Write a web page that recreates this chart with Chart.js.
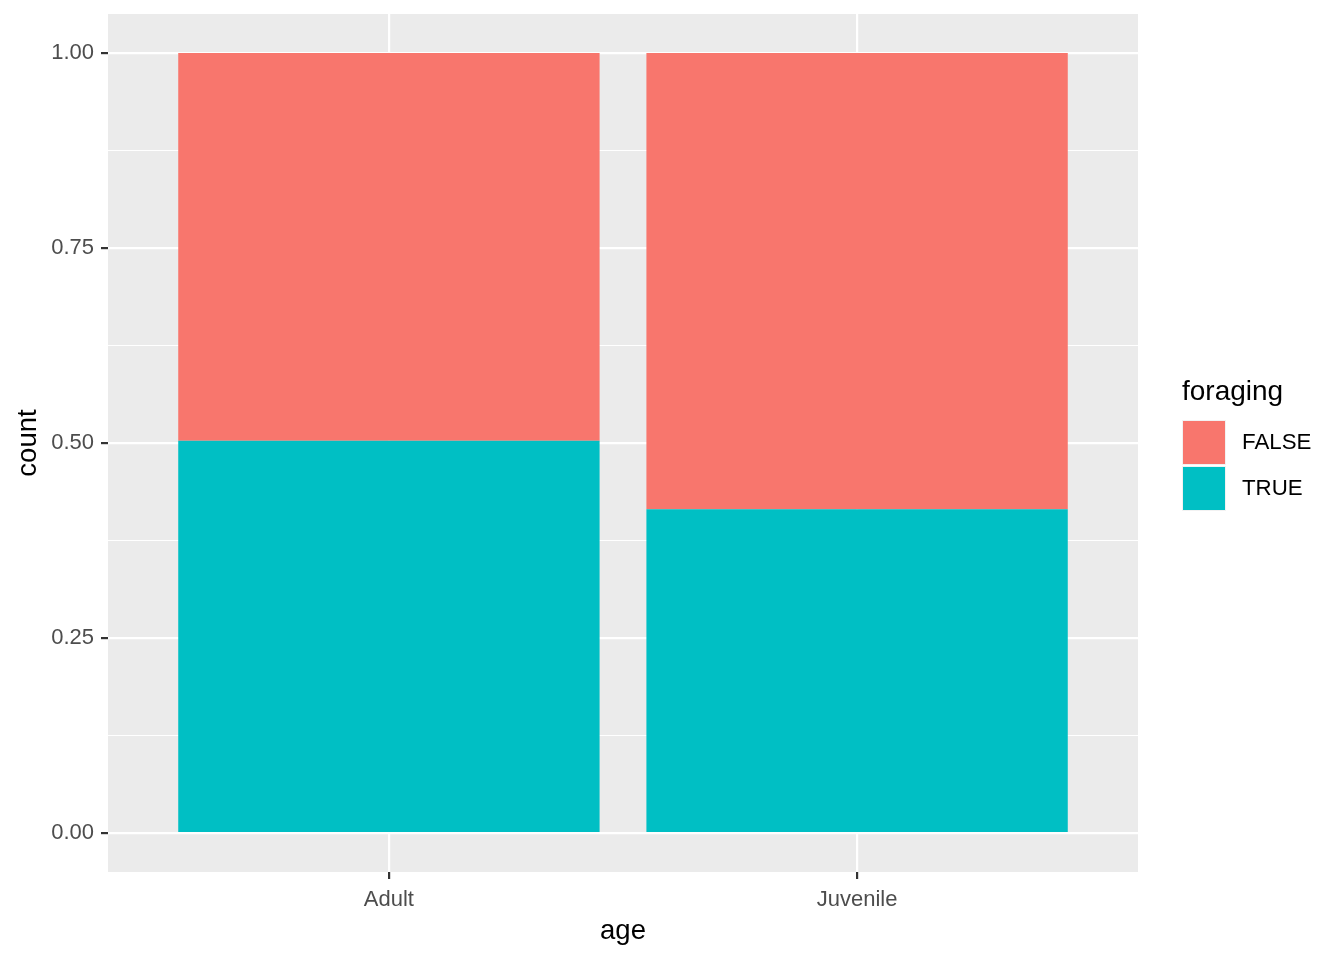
<!DOCTYPE html>
<html>
<head>
<meta charset="utf-8">
<script src="https://cdn.jsdelivr.net/npm/chart.js@4/dist/chart.umd.min.js"></script>
<style>
  html, body { margin: 0; padding: 0; background: #fff; }
  #wrap { width: 1344px; height: 960px; }
</style>
</head>
<body>
<div id="wrap"><canvas id="chart" width="1344" height="960"></canvas></div>
<script>
// data (position = "fill", so shares per age group)
const categories = ["Adult", "Juvenile"]
const trueShare = [0.503, 0.415]
const falseShare = [0.497, 0.585]
const seriesNames = ["FALSE", "TRUE"]
const yMajor = [0, 0.25, 0.5, 0.75, 1]
const yMinor = [0.125, 0.375, 0.625, 0.875]
const yTickLabels = ["0.00", "0.25", "0.50", "0.75", "1.00"]

const FONT = "'Liberation Sans', Arial, sans-serif"
const colFalse = "#F8766D"
const colTrue = "#00BFC4"

const isMajor = v => yMajor.some(m => Math.abs(m - v) < 1e-9)

// grey panel behind the grid, like theme_grey()
const panelBg = {
  id: "panelBg",
  beforeDraw(chart) {
    const {ctx, chartArea: a} = chart
    ctx.save()
    ctx.fillStyle = "#EBEBEB"
    ctx.fillRect(a.left, a.top, a.right - a.left, a.bottom - a.top)
    ctx.restore()
  }
}

// ggplot-style legend on the right
const ggLegend = {
  id: "ggLegend",
  afterDraw(chart) {
    const {ctx, chartArea: a} = chart
    const x0 = a.right + 44
    const key = 43
    ctx.save()
    ctx.font = "28px " + FONT
    ctx.fillStyle = "#000"
    ctx.textBaseline = "middle"
    ctx.textAlign = "left"
    ctx.fillText("foraging", x0, 392)
    const items = [
      {label: seriesNames[0], color: colFalse},
      {label: seriesNames[1], color: colTrue}
    ]
    items.forEach((it, i) => {
      const y = 420 + i * 46
      ctx.fillStyle = "#F2F2F2"
      ctx.fillRect(x0, y, key + 1, key + 2)
      ctx.fillStyle = it.color
      ctx.fillRect(x0 + 1, y + 1, key - 1, key)
      ctx.fillStyle = "#000"
      ctx.font = "22.3px " + FONT
      ctx.fillText(it.label, x0 + 60, y + 23)
    })
    ctx.restore()
  }
}

const ctx = document.getElementById("chart").getContext("2d")
const chart = new Chart(ctx, {
  type: "bar",
  data: {
    datasets: [
      {
        label: "TRUE",
        data: categories.map((c, i) => ({x: i + 1, y: trueShare[i]})),
        backgroundColor: colTrue,
        borderWidth: 0
      },
      {
        label: "FALSE",
        data: categories.map((c, i) => ({x: i + 1, y: falseShare[i]})),
        backgroundColor: colFalse,
        borderWidth: 0
      }
    ]
  },
  plugins: [panelBg, ggLegend],
  options: {
    responsive: false,
    animation: false,
    categoryPercentage: 1,
    barPercentage: 0.9,
    layout: {padding: {left: 0, right: 206, top: 14, bottom: 0}},
    plugins: {
      legend: {display: false},
      tooltip: {enabled: false}
    },
    scales: {
      x: {
        type: "linear",
        stacked: true,
        offset: false,
        min: 0.4,
        max: 2.6,
        afterBuildTicks: s => { s.ticks = categories.map((c, i) => ({value: i + 1})) },
        afterFit: s => {
          s.height = 88
          s.paddingLeft = 0
          s.paddingRight = 0
        },
        ticks: {
          callback: v => categories[v - 1],
          color: "#4D4D4D",
          font: {family: FONT, size: 22},
          padding: 8,
          maxRotation: 0
        },
        grid: {
          offset: false,
          color: "#FFFFFF",
          lineWidth: 2.2,
          tickColor: "#333333",
          tickWidth: 2.2,
          tickLength: 7
        },
        border: {display: false},
        title: {
          display: true,
          text: "age",
          color: "#000",
          font: {family: FONT, size: 27.5},
          padding: {top: 0, bottom: 12}
        }
      },
      y: {
        type: "linear",
        stacked: true,
        min: -0.05,
        max: 1.05,
        afterBuildTicks: s => {
          s.ticks = yMajor.concat(yMinor).sort((a, b) => a - b).map(v => ({value: v}))
        },
        afterFit: s => {
          s.width = 108
          s.paddingTop = 0
          s.paddingBottom = 0
        },
        ticks: {
          callback: v => {
            const k = yMajor.findIndex(m => Math.abs(m - v) < 1e-9)
            return k >= 0 ? yTickLabels[k] : ""
          },
          color: "#4D4D4D",
          font: {family: FONT, size: 22},
          padding: 7
        },
        grid: {
          color: "#FFFFFF",
          lineWidth: c => isMajor(c.tick.value) ? 2.2 : 1.1,
          tickColor: c => isMajor(c.tick.value) ? "#333333" : "rgba(0,0,0,0)",
          tickWidth: 2.2,
          tickLength: 7
        },
        border: {display: false},
        title: {
          display: true,
          text: "count",
          color: "#000",
          font: {family: FONT, size: 27.5},
          padding: {top: 12, bottom: 0}
        }
      }
    }
  }
})
</script>
</body>
</html>
